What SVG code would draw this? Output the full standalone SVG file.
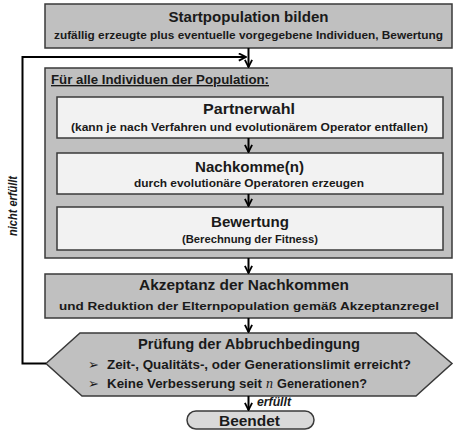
<svg xmlns="http://www.w3.org/2000/svg" width="461" height="436" viewBox="0 0 461 436">
<defs>
<style>
.box{fill:#c0c0c0;stroke:#3a3a3a;stroke-width:1.5}
.inner{fill:#f2f2f2;stroke:#3a3a3a;stroke-width:1.5}
.end{fill:#d9d9d9;stroke:#3a3a3a;stroke-width:1.5}
text{font-family:"Liberation Sans",Arial,sans-serif;font-weight:bold;fill:#1a1a1a}
.t{font-size:15.5px;text-anchor:middle}
.s{font-size:11.5px;text-anchor:middle}
.b{font-size:13.5px}
.lbl{font-size:12px;font-style:italic}
.con{fill:none;stroke:#000;stroke-width:2}
</style>
<marker id="ah" viewBox="0 0 10 10" refX="9" refY="5" markerWidth="4.5" markerHeight="4.5" orient="auto" markerUnits="strokeWidth">
<path d="M1,1 L9,5 L1,9" fill="none" stroke="#000" stroke-width="2"/>
</marker>
</defs>
<rect width="461" height="436" fill="#fff"/>
<g id="start">
<rect class="box" x="45" y="4" width="407" height="44"/>
<text class="t" x="248.5" y="22" textLength="160" lengthAdjust="spacingAndGlyphs">Startpopulation bilden</text>
<text class="s" x="248.5" y="39" textLength="389" lengthAdjust="spacingAndGlyphs">zufällig erzeugte plus eventuelle vorgegebene Individuen, Bewertung</text>
</g>
<g id="loop">
<rect class="box" x="45" y="68" width="407" height="190"/>
<text class="b" x="51" y="84" text-decoration="underline" textLength="218" lengthAdjust="spacingAndGlyphs">Für alle Individuen der Population:</text>
</g>
<g id="partnerwahl">
<rect class="inner" x="57" y="97" width="386" height="41"/>
<text class="t" x="249" y="114" textLength="92" lengthAdjust="spacingAndGlyphs">Partnerwahl</text>
<text class="s" x="249.5" y="131" textLength="357" lengthAdjust="spacingAndGlyphs">(kann je nach Verfahren und evolutionärem Operator entfallen)</text>
</g>
<g id="nachkomme">
<rect class="inner" x="57" y="153" width="386" height="41"/>
<text class="t" x="249.5" y="172" textLength="109" lengthAdjust="spacingAndGlyphs">Nachkomme(n)</text>
<text class="s" x="249" y="187" textLength="230" lengthAdjust="spacingAndGlyphs">durch evolutionäre Operatoren erzeugen</text>
</g>
<g id="bewertung">
<rect class="inner" x="57" y="207" width="386" height="43"/>
<text class="t" x="250" y="227" textLength="78" lengthAdjust="spacingAndGlyphs">Bewertung</text>
<text class="s" x="250" y="243" textLength="136" lengthAdjust="spacingAndGlyphs">(Berechnung der Fitness)</text>
</g>
<g id="akzeptanz">
<rect class="box" x="45" y="274" width="407" height="44"/>
<text class="t" x="244" y="290" textLength="210" lengthAdjust="spacingAndGlyphs">Akzeptanz der Nachkommen</text>
<text class="s" x="249" y="310" font-size="12.5" textLength="380" lengthAdjust="spacingAndGlyphs">und Reduktion der Elternpopulation gemäß Akzeptanzregel</text>
</g>
<g id="pruefung">
<polygon class="box" points="46,363.5 80,333 416,333 452,363.5 416,396 82,396"/>
<text class="t" x="249" y="349" textLength="222" lengthAdjust="spacingAndGlyphs">Prüfung der Abbruchbedingung</text>
<text x="88" y="369" font-size="13" style="font-family:'DejaVu Sans',sans-serif;font-weight:normal">➢</text>
<text x="88" y="388" font-size="13" style="font-family:'DejaVu Sans',sans-serif;font-weight:normal">➢</text>
<text class="b" x="107" y="369" textLength="304" lengthAdjust="spacingAndGlyphs">Zeit-, Qualitäts-, oder Generationslimit erreicht?</text>
<text class="b" x="107" y="388" textLength="155" lengthAdjust="spacingAndGlyphs">Keine Verbesserung seit</text>
<text x="266" y="388" font-size="14" style="font-family:'Liberation Serif',serif;font-style:italic;font-weight:normal">n</text>
<text class="b" x="277" y="388" textLength="90" lengthAdjust="spacingAndGlyphs">Generationen?</text>
</g>
<g id="beendet">
<rect class="end" x="187" y="411" width="127" height="18" rx="9" ry="9"/>
<text class="t" x="249.5" y="425.5" textLength="61" lengthAdjust="spacingAndGlyphs">Beendet</text>
</g>
<g id="connectors">
<line class="con" x1="248.5" y1="48" x2="248.5" y2="67" marker-end="url(#ah)"/>
<polyline class="con" points="46,363.5 22.5,363.5 22.5,57 246,57" marker-end="url(#ah)"/>
<line class="con" x1="248.5" y1="138" x2="248.5" y2="152" marker-end="url(#ah)"/>
<line class="con" x1="248.5" y1="194" x2="248.5" y2="206" marker-end="url(#ah)"/>
<line class="con" x1="248.5" y1="258" x2="248.5" y2="273" marker-end="url(#ah)"/>
<line class="con" x1="248.5" y1="318" x2="248.5" y2="332" marker-end="url(#ah)"/>
<line class="con" x1="248.5" y1="396" x2="248.5" y2="410" marker-end="url(#ah)"/>
<text class="lbl" x="257" y="406" textLength="34" lengthAdjust="spacingAndGlyphs">erfüllt</text>
<text class="lbl" font-size="13" transform="translate(17,206) rotate(-90)" text-anchor="middle" textLength="60" lengthAdjust="spacingAndGlyphs">nicht erfüllt</text>
</g>
</svg>
